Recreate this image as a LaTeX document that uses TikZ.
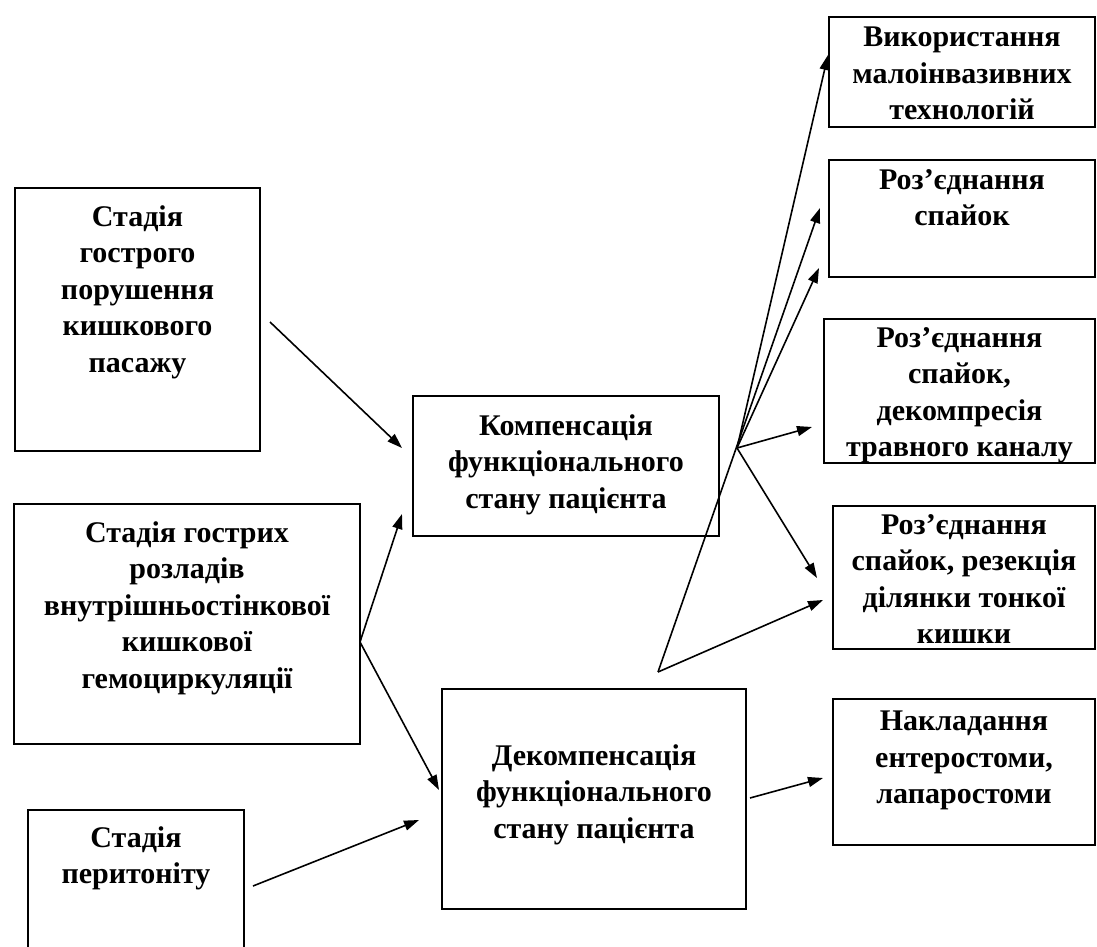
\documentclass[tikz,border=0pt]{standalone}
\usepackage{fontspec}
\setmainfont{Liberation Serif}
\usetikzlibrary{arrows.meta,positioning}
\tikzset{
  stagebox/.style={draw,line width=2pt,anchor=north west,inner sep=0pt},
  boxtext/.style={anchor=north,align=center,inner sep=0pt,
    font=\fontsize{30}{36.5}\selectfont\bfseries},
  link/.style={line width=1.6pt,-{Triangle[length=15pt,width=10pt]}},
}
\begin{document}
\begin{tikzpicture}[x=1pt,y=-1pt]
  \useasboundingbox (0,0) rectangle (1097,947);
  \clip (0,0) rectangle (1097,947);
  % stages
  \node[stagebox,minimum width=245pt,minimum height=263pt] (gostre) at (14,187) {};
  \node[boxtext,below=18pt of gostre.north] (gostretxt) {Стадія\\гострого\\порушення\\кишкового\\пасажу};
  \node[stagebox,minimum width=346pt,minimum height=240pt] (rozlad) at (13,503) {};
  \node[boxtext,below=18pt of rozlad.north] (rozladtxt) {Стадія гострих\\розладів\\внутрішньостінкової\\кишкової\\гемоциркуляції};
  \node[stagebox,minimum width=216pt,minimum height=200pt] (perit) at (27,809) {};
  \node[boxtext,below=17pt of perit.north] (perittxt) {Стадія\\перитоніту};
  % states
  \node[stagebox,minimum width=306pt,minimum height=140pt] (komp) at (412,395) {};
  \node[boxtext,below=19pt of komp.north] (komptxt) {Компенсація\\функціонального\\стану пацієнта};
  \node[stagebox,minimum width=304pt,minimum height=220pt] (dekomp) at (441,688) {};
  \node[boxtext,below=56pt of dekomp.north] (dekomptxt) {Декомпенсація\\функціонального\\стану пацієнта};
  % operations
  \node[stagebox,minimum width=266pt,minimum height=110pt] (malo) at (828,16) {};
  \node[boxtext,below=11pt of malo.north] (malotxt) {Використання\\малоінвазивних\\технологій};
  \node[stagebox,minimum width=266pt,minimum height=117pt] (spayky) at (828,159) {};
  \node[boxtext,below=10pt of spayky.north] (spaykytxt) {Роз’єднання\\спайок};
  \node[stagebox,minimum width=271pt,minimum height=144pt] (dekompr) at (823,318) {};
  \node[boxtext,below=9pt of dekompr.north] (dekomprtxt) {Роз’єднання\\спайок,\\декомпресія\\травного каналу};
  \node[stagebox,minimum width=262pt,minimum height=143pt] (rezek) at (832,505) {};
  \node[boxtext,below=9pt of rezek.north] (rezektxt) {Роз’єднання\\спайок, резекція\\ділянки тонкої\\кишки};
  \node[stagebox,minimum width=262pt,minimum height=146pt] (stoma) at (832,698) {};
  \node[boxtext,below=13pt of stoma.north] (stomatxt) {Накладання\\ентеростоми,\\лапаростоми};
  % branch points and arrow ends
  \coordinate (gostre-out) at (270,322);
  \coordinate (rozlad-out) at (360,642);
  \coordinate (perit-out) at (253,886);
  \coordinate (komp-in1) at (402,448);
  \coordinate (komp-in2) at (402,514);
  \coordinate (dekomp-in1) at (439,790);
  \coordinate (dekomp-in2) at (419,820);
  \coordinate (komp-out) at (737,448);
  \coordinate (dekomp-out) at (658,672);
  \coordinate (dekomp-side) at (750,798);
  \coordinate (malo-in) at (828,55);
  \coordinate (spayky-in1) at (820,208);
  \coordinate (spayky-in2) at (819,268);
  \coordinate (dekompr-in) at (812,427);
  \coordinate (rezek-in1) at (817,578);
  \coordinate (rezek-in2) at (823,600);
  \coordinate (stoma-in) at (823,778);
  % connectors
  \draw[link] (gostre-out) -- (komp-in1);
  \draw[link] (rozlad-out) -- (komp-in2);
  \draw[link] (rozlad-out) -- (dekomp-in1);
  \draw[link] (perit-out) -- (dekomp-in2);
  \foreach \t in {malo-in,spayky-in2,dekompr-in,rezek-in1}
    \draw[link] (komp-out) -- (\t);
  \draw[link] (dekomp-out) -- (spayky-in1);
  \draw[link] (dekomp-out) -- (rezek-in2);
  \draw[link] (dekomp-side) -- (stoma-in);
\end{tikzpicture}
\end{document}
